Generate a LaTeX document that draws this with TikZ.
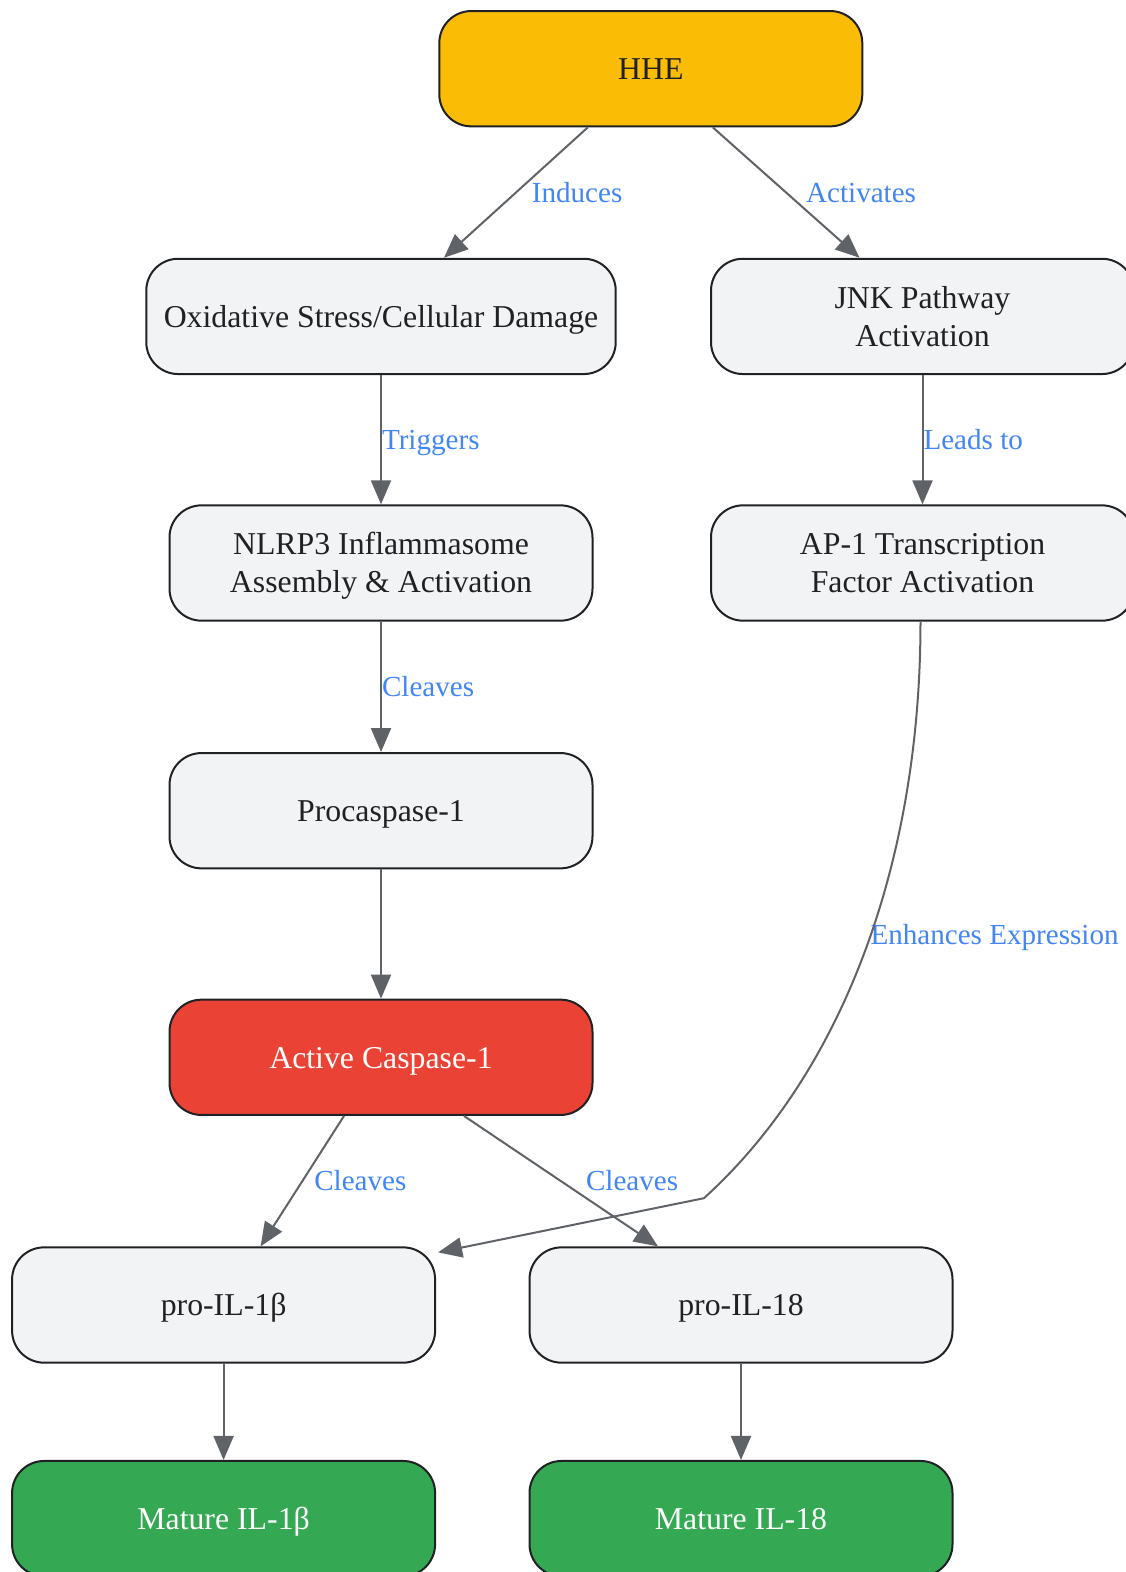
\documentclass[tikz,border=0pt]{standalone}
\usepackage{fontspec}
\setmainfont{Liberation Serif}
\usepackage{xcolor}
\usetikzlibrary{arrows.meta,positioning}
\definecolor{hheyellow}{HTML}{FBBC05}
\definecolor{casred}{HTML}{EA4335}
\definecolor{matgreen}{HTML}{34A853}
\definecolor{boxgrey}{HTML}{F1F3F4}
\definecolor{boxline}{HTML}{202124}
\definecolor{edgegrey}{HTML}{5F6368}
\definecolor{lblblue}{HTML}{4285F4}
\newcommand{\boxstrut}{\rule[-8.3pt]{0pt}{38.1pt}}
\newcommand{\lblstrut}{\rule[-6.3pt]{0pt}{32.2pt}}
\tikzset{
  box/.style={draw=boxline, line width=2pt, rounded corners=32pt, fill=boxgrey,
    text=boxline, minimum width=423pt, minimum height=115.3pt, inner xsep=17.5pt,
    align=center, font=\fontsize{31.8}{38.1}\selectfont},
  oneline/.style={box, execute at begin node=\boxstrut, execute at end node=\boxstrut},
  lbl/.style={text=lblblue, font=\fontsize{29.1}{34.9}\selectfont, anchor=west, inner sep=0pt,
    execute at begin node=\lblstrut},
  link/.style={draw=edgegrey, line width=2pt, -{Triangle[length=24pt,width=20pt]}}
}
\begin{document}
\begin{tikzpicture}[x=1pt,y=-1pt]
\useasboundingbox (0,0) rectangle (1126,1572);
\node[oneline, fill=hheyellow] (hhe) at (650.8,68.7) {HHE};
\node[oneline] (ox) at (381,316.4) {Oxidative Stress/Cellular Damage};
\node[box] (jnk) at (922.5,316.4) {\boxstrut JNK Pathway\\Activation\boxstrut};
\node[box] (nlrp) at (381,563) {\boxstrut NLRP3 Inflammasome\\Assembly \& Activation\boxstrut};
\node[box] (ap) at (922.5,563) {\boxstrut AP-1 Transcription\\Factor Activation\boxstrut};
\node[oneline] (pro) at (381,810.7) {Procaspase-1};
\node[oneline, fill=casred, text=white] (casp) at (381,1057.3) {Active Caspase-1};
\node[oneline] (pil1b) at (223.6,1305) {pro-IL-1β};
\node[oneline] (pil18) at (741,1305) {pro-IL-18};
\node[oneline, fill=matgreen, text=white] (mil1b) at (223.6,1518.6) {Mature IL-1β};
\node[oneline, fill=matgreen, text=white] (mil18) at (741,1518.6) {Mature IL-18};
\coordinate (bend) at (703.9,1198.2);
\node[lbl] (enhlbl) at (870.3,934.5) {Enhances Expression};
\draw[link] ([xshift=-63pt]hhe.south) -- ([xshift=63pt]ox.north) node[lbl,midway,xshift=15pt] {Induces};
\draw[link] ([xshift=62pt]hhe.south) -- ([xshift=-63pt]jnk.north) node[lbl,midway,xshift=19pt] {Activates};
\draw[link] (ox) -- (nlrp) node[lbl,midway] {Triggers};
\draw[link] (jnk) -- (ap) node[lbl,midway] {Leads to};
\draw[link] (nlrp) -- (pro) node[lbl,midway] {Cleaves};
\draw[link] (pro) -- (casp);
\draw[link] ([xshift=-37pt]casp.south) -- ([xshift=37pt]pil1b.north) node[lbl,midway,xshift=11pt] {Cleaves};
\draw[link] ([xshift=83pt]casp.south) -- ([xshift=-83pt]pil18.north) node[lbl,midway,xshift=24pt] {Cleaves};
\draw[link] ([xshift=-2pt]ap.south) .. controls +(0,241.6) and (842.3,1072.9) .. (bend)
  -- ([xshift=2pt,yshift=-6pt]pil1b.north east);
\draw[link] (pil1b) -- (mil1b);
\draw[link] (pil18) -- (mil18);
\end{tikzpicture}
\end{document}
